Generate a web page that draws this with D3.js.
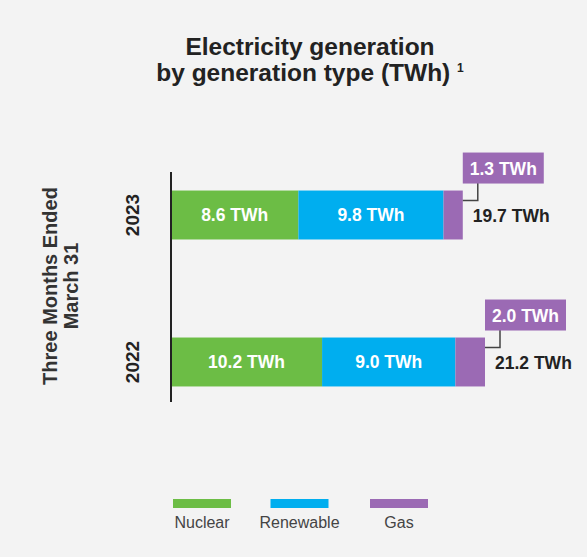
<!DOCTYPE html>
<html>
<head>
<meta charset="utf-8">
<script src="https://cdn.jsdelivr.net/npm/d3@7"></script>
<style>
  body { margin: 0; background: #f3f3f3; }
  svg { display: block; font-family: "Liberation Sans", Arial, sans-serif; }
</style>
</head>
<body>
<div id="chart"></div>
<script>
// Electricity generation by type - stacked horizontal bars

const years = ["2023", "2022"];
const sources = ["Nuclear", "Renewable", "Gas"];
const nuclear = [8.6, 10.2];
const renewable = [9.8, 9.0];
const gas = [1.3, 2.0];
const totals = [19.7, 21.2];
const colors = ["#6cbd45", "#00aeef", "#9b6ab4"];

let w = 587, h = 557;

let svg = d3.select("#chart").append("svg")
    .attr("width", w)
    .attr("height", h);

svg.append("rect")
    .attr("width", w).attr("height", h)
    .attr("fill", "#f3f3f3");

// title
let title = svg.append("text")
    .attr("text-anchor", "middle")
    .style("font-weight", "bold")
    .style("font-size", "24.5px")
    .attr("fill", "#222");
title.append("tspan").attr("x", 310).attr("y", 55).text("Electricity generation");
title.append("tspan").attr("x", 310).attr("y", 81).text("by generation type (TWh) ");
title.append("tspan").attr("dy", -9).style("font-size", "12px").text("1");

// rows as a table built from the arrays
let rows = years.map(function(y, i) {
    return { year: y, values: [nuclear[i], renewable[i], gas[i]], total: totals[i] };
});

let xScale = d3.scaleLinear()
    .domain([0, 21.2])
    .range([171, 485]);

let yScale = d3.scaleBand()
    .domain(years)
    .range([141, 436])
    .paddingInner(0.667)
    .paddingOuter(0.337);

let bw = yScale.bandwidth();

// segments
rows.forEach(function(r) {
    let start = 0;
    let g = svg.append("g");
    r.values.forEach(function(v, j) {
        let x0 = xScale(start), x1 = xScale(start + v);
        g.append("rect")
            .attr("x", x0)
            .attr("y", yScale(r.year))
            .attr("width", x1 - x0)
            .attr("height", bw)
            .attr("fill", colors[j]);
        if (j < 2) {
            g.append("text")
                .attr("x", (x0 + x1) / 2)
                .attr("y", yScale(r.year) + bw / 2 + 6)
                .attr("text-anchor", "middle")
                .style("font-weight", "bold")
                .style("font-size", "17.5px")
                .attr("fill", "#fff")
                .text(v.toFixed(1) + " TWh");
        }
        start += v;
    });

    // gas callout box
    let gasEnd = xScale(start);
    let top = yScale(r.year);
    g.append("path")
        .attr("d", "M" + (gasEnd + 15) + "," + (top - 8) + "V" + (top + 10) + "H" + gasEnd)
        .attr("fill", "none")
        .attr("stroke", "#444")
        .attr("stroke-width", 1.5);
    g.append("rect")
        .attr("x", gasEnd)
        .attr("y", top - 38)
        .attr("width", 81)
        .attr("height", 31)
        .attr("fill", colors[2]);
    g.append("text")
        .attr("x", gasEnd + 40.5)
        .attr("y", top - 16)
        .attr("text-anchor", "middle")
        .style("font-weight", "bold")
        .style("font-size", "17.5px")
        .attr("fill", "#fff")
        .text(r.values[2].toFixed(1) + " TWh");

    // total
    let tot = g.append("text")
        .attr("x", gasEnd + 10)
        .attr("y", top + bw / 2 + 7)
        .style("font-weight", "bold")
        .style("font-size", "17.5px")
        .attr("fill", "#222")
        .text(r.total.toFixed(1) + " TWh");
    let tw = tot.node().getComputedTextLength();
    if (gasEnd + 10 + tw > w - 8) tot.attr("x", w - 8 - tw);
});

// axis line
svg.append("line")
    .attr("x1", 171).attr("x2", 171)
    .attr("y1", 172).attr("y2", 402)
    .attr("stroke", "#222")
    .attr("stroke-width", 2);

// year labels
years.forEach(function(y) {
    let cy = yScale(y) + bw / 2;
    svg.append("text")
        .attr("transform", "translate(139," + cy + ") rotate(-90)")
        .attr("text-anchor", "middle")
        .style("font-weight", "bold")
        .style("font-size", "19px")
        .attr("fill", "#222")
        .text(y);
});

// y axis title
let yt = svg.append("text")
    .attr("transform", "translate(0,286) rotate(-90)")
    .attr("text-anchor", "middle")
    .style("font-weight", "bold")
    .style("font-size", "20px")
    .attr("fill", "#333");
yt.append("tspan").attr("x", 0).attr("y", 57).text("Three Months Ended");
yt.append("tspan").attr("x", 0).attr("y", 78).text("March 31");

// legend
let legX = [202, 299.5, 399];
sources.forEach(function(s, i) {
    svg.append("rect")
        .attr("x", legX[i] - 29)
        .attr("y", 499)
        .attr("width", 58)
        .attr("height", 9)
        .attr("fill", colors[i]);
    svg.append("text")
        .attr("x", legX[i])
        .attr("y", 528)
        .attr("text-anchor", "middle")
        .style("font-size", "16px")
        .attr("fill", "#444")
        .text(s);
});
</script>
</body>
</html>
